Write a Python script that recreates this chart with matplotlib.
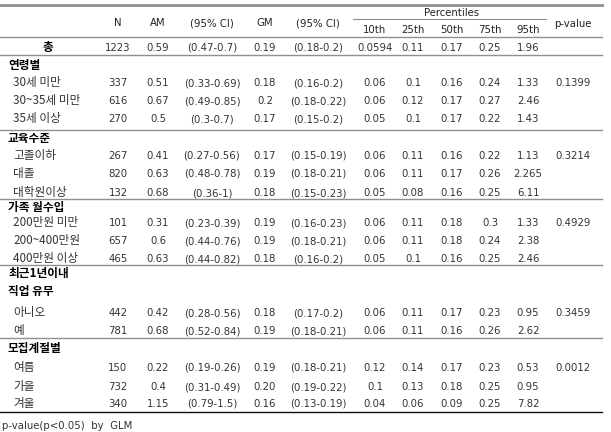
import matplotlib
matplotlib.use("Agg")
import matplotlib.pyplot as plt

plt.rcParams['font.family'] = ['DejaVu Sans', 'Noto Sans CJK KR']
kr_font = ['Noto Sans CJK KR', 'DejaVu Sans']

# table contents
group_titles = ['연령별', '교육수준', '가족 월수입', '최근1년이내\n직업 유무', '모집계절별']
row_labels = ['총',
              '30세 미만', '30~35세 미만', '35세 이상',
              '고졸이하', '대졸', '대학원이상',
              '200만원 미만', '200~400만원', '400만원 이상',
              '아니오', '예',
              '여름', '가을', '겨울']
n_vals = ['1223', '337', '616', '270', '267', '820', '132', '101', '657', '465',
          '442', '781', '150', '732', '340']
am_vals = ['0.59', '0.51', '0.67', '0.5', '0.41', '0.63', '0.68', '0.31', '0.6', '0.63',
           '0.42', '0.68', '0.22', '0.4', '1.15']
am_ci = ['(0.47-0.7)', '(0.33-0.69)', '(0.49-0.85)', '(0.3-0.7)', '(0.27-0.56)',
         '(0.48-0.78)', '(0.36-1)', '(0.23-0.39)', '(0.44-0.76)', '(0.44-0.82)',
         '(0.28-0.56)', '(0.52-0.84)', '(0.19-0.26)', '(0.31-0.49)', '(0.79-1.5)']
gm_vals = ['0.19', '0.18', '0.2', '0.17', '0.17', '0.19', '0.18', '0.19', '0.19', '0.18',
           '0.18', '0.19', '0.19', '0.20', '0.16']
gm_ci = ['(0.18-0.2)', '(0.16-0.2)', '(0.18-0.22)', '(0.15-0.2)', '(0.15-0.19)',
         '(0.18-0.21)', '(0.15-0.23)', '(0.16-0.23)', '(0.18-0.21)', '(0.16-0.2)',
         '(0.17-0.2)', '(0.18-0.21)', '(0.18-0.21)', '(0.19-0.22)', '(0.13-0.19)']
p10 = ['0.0594', '0.06', '0.06', '0.05', '0.06', '0.06', '0.05', '0.06', '0.06', '0.05',
       '0.06', '0.06', '0.12', '0.1', '0.04']
p25 = ['0.11', '0.1', '0.12', '0.1', '0.11', '0.11', '0.08', '0.11', '0.11', '0.1',
       '0.11', '0.11', '0.14', '0.13', '0.06']
p50 = ['0.17', '0.16', '0.17', '0.17', '0.16', '0.17', '0.16', '0.18', '0.18', '0.16',
       '0.17', '0.16', '0.17', '0.18', '0.09']
p75 = ['0.25', '0.24', '0.27', '0.22', '0.22', '0.26', '0.25', '0.3', '0.24', '0.25',
       '0.23', '0.26', '0.23', '0.25', '0.25']
p95 = ['1.96', '1.33', '2.46', '1.43', '1.13', '2.265', '6.11', '1.33', '2.38', '2.46',
       '0.95', '2.62', '0.53', '0.95', '7.82']
p_values = ['', '0.1399', '', '', '0.3214', '', '', '0.4929', '', '', '0.3459', '',
            '0.0012', '', '']
col_heads = ['N', 'AM', '(95% CI)', 'GM', '(95% CI)']
pct_heads = ['10th', '25th', '50th', '75th', '95th']
footnote = 'p-value(p<0.05)  by  GLM'

# layout (pixel coordinates, baselines)
W, H = 611, 432
col_x = [118, 158, 212, 265, 318, 375, 413, 452, 490, 528, 573]
row_y = [51, 86, 104, 122, 159, 177, 196, 226, 244, 262, 316, 334, 371, 390, 407]
group_y = [69, 142, 211, 277, 352]
gray_lines = [55, 130, 199, 265, 338]
x_right = 602
fs = 7.3
kfs = 8.4
tc = '#333333'
lc = '#909090'

fig = plt.figure(figsize=(W / 100, H / 100), dpi=100)
ax = fig.add_axes([0, 0, 1, 1])
ax.set_xlim(0, W)
ax.set_ylim(H, 0)
ax.axis('off')

# rules
ax.plot([0, x_right], [5, 5], color=lc, lw=2.0)
ax.plot([0, x_right], [37, 37], color=lc, lw=1.0)
for y in gray_lines:
    ax.plot([0, x_right], [y, y], color=lc, lw=1.0)
ax.plot([0, x_right], [412, 412], color='#111111', lw=1.0)
ax.plot([353, 546], [19, 19], color=lc, lw=0.8)

# header
for x, h in zip(col_x[:5], col_heads):
    ax.text(x, 26, h, ha='center', va='baseline', fontsize=fs, color='#222222')
ax.text((col_x[5] + col_x[9]) / 2, 16, 'Percentiles', ha='center', va='baseline',
        fontsize=fs, color='#222222')
for x, h in zip(col_x[5:10], pct_heads):
    ax.text(x, 33, h, ha='center', va='baseline', fontsize=fs, color='#222222')
ax.text(col_x[10], 27, 'p-value', ha='center', va='baseline', fontsize=fs, color='#222222')

# group titles (two-line title stacked downward from first baseline)
for y, g in zip(group_y, group_titles):
    for k, part in enumerate(g.split('\n')):
        ax.text(8, y + 18 * k, part, ha='left', va='baseline', fontsize=kfs,
                color='black', fontweight='bold', family=kr_font)

# rows
cols = [n_vals, am_vals, am_ci, gm_vals, gm_ci, p10, p25, p50, p75, p95, p_values]
for i, lab in enumerate(row_labels):
    y = row_y[i]
    if i == 0:
        ax.text(48, y, lab, ha='center', va='baseline', fontsize=kfs,
                color='black', fontweight='bold', family=kr_font)
    else:
        ax.text(13, y, lab, ha='left', va='baseline', fontsize=kfs, color=tc,
                family=kr_font)
    for x, c in zip(col_x, cols):
        ax.text(x, y, c[i], ha='center', va='baseline', fontsize=fs, color=tc)

ax.text(2, 429, footnote, ha='left', va='baseline', fontsize=fs, color=tc)

fig.savefig('out.png', dpi=100)
